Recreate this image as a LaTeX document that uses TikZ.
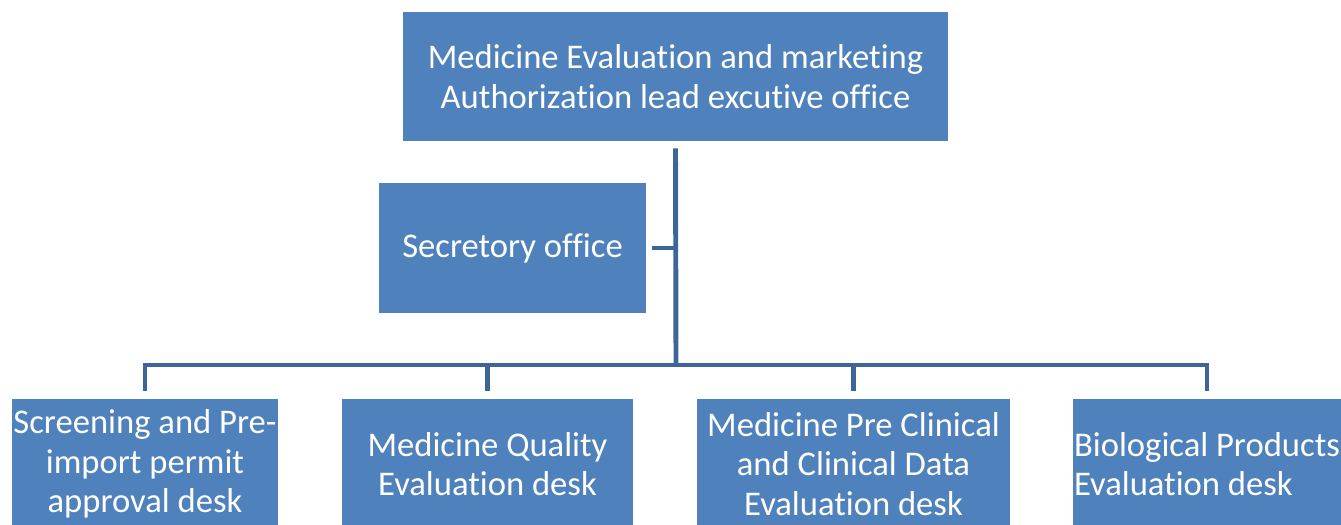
\documentclass[tikz,border=0pt]{standalone}
\usepackage{fontspec}
\setmainfont{Carlito}[Ligatures={NoCommon}]
\usetikzlibrary{positioning}

\definecolor{boxblue}{RGB}{79,129,189}
\definecolor{lineblue}{RGB}{61,101,151}

\begin{document}
\begin{tikzpicture}[x=0.02cm,y=-0.02cm,inner sep=0mm,
  box/.style={fill=boxblue,text=white,align=center,
    font=\fontsize{19.7}{22.5}\selectfont},
  link/.style={draw=lineblue,line width=2.8pt}]

\clip (0,0) rectangle (1341,524);

\coordinate (T) at (675.5,76.5);
\coordinate (S) at (512.5,248);
\coordinate (J) at (676,248);
\coordinate (bus) at (676,365);

\node[box,minimum width=10.9cm,minimum height=2.58cm] (lead) at (T)
  {Medicine Evaluation and marketing\\Authorization lead excutive office};
\node[box,minimum width=5.34cm,minimum height=2.6cm] (sec) at (S)
  {Secretory office};

\node[box,minimum width=5.32cm,minimum height=2.6cm] (screen) at (145,464)
  {Screening and Pre-\\import permit\\approval desk};
\node[box,minimum width=5.82cm,minimum height=2.6cm] (quality) at (487.5,464)
  {Medicine Quality\\Evaluation desk};
\node[box,minimum width=6.26cm,minimum height=2.6cm] (clinical) at (853.5,464)
  {Medicine Pre Clinical\\and Clinical Data\\Evaluation desk};
\node[box,align=left,minimum width=5.36cm,minimum height=2.6cm] (bio) at (1207,464)
  {Biological Products\\Evaluation desk};

\draw[link] ([yshift=-0.14cm]lead.south) -- (bus);
\draw[link] ([xshift=0.12cm]sec.east) -- (J);
\draw[link] ([yshift=0.16cm]screen.north) |- (bus);
\draw[link] ([yshift=0.16cm]quality.north) |- (bus);
\draw[link] ([yshift=0.16cm]clinical.north) |- (bus);
\draw[link] ([yshift=0.16cm]bio.north) |- (bus);

\end{tikzpicture}
\end{document}
